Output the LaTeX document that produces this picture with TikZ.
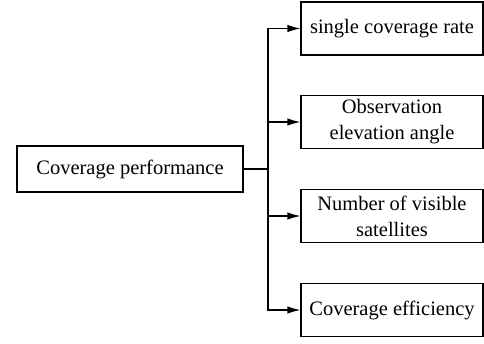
\documentclass[tikz,border=0pt]{standalone}
\usepackage{fontspec}
\setmainfont{Liberation Serif}
\usetikzlibrary{arrows.meta}
\begin{document}
\begin{tikzpicture}[x=1pt,y=-1pt,
  box/.style={draw, line width=1.2pt, inner sep=0pt, align=center, font=\fontsize{20.5}{26}\selectfont},
  conn/.style={line width=1.2pt},
  arr/.style={conn, -{Latex[length=13pt,width=7.5pt]}}]
\useasboundingbox (0,0) rectangle (484,343);
\node[box, minimum width=226pt, minimum height=46pt] (root) at (130,169) {Coverage performance};
\node[box, minimum width=182pt, minimum height=53pt] (a) at (392,28.5) {single coverage rate};
\node[box, minimum width=182pt, minimum height=53pt] (b) at (392,122) {Observation\\elevation angle};
\node[box, minimum width=182pt, minimum height=53pt] (c) at (392,216) {Number of visible\\satellites};
\node[box, minimum width=182pt, minimum height=53pt] (d) at (392,310) {Coverage efficiency};
\coordinate (j) at (268,169);
\draw[conn] (root.east) -- (j);
\draw[arr] (j) |- (a.west);
\draw[arr] (j) |- (b.west);
\draw[arr] (j) |- (c.west);
\draw[arr] (j) |- (d.west);
\end{tikzpicture}
\end{document}
